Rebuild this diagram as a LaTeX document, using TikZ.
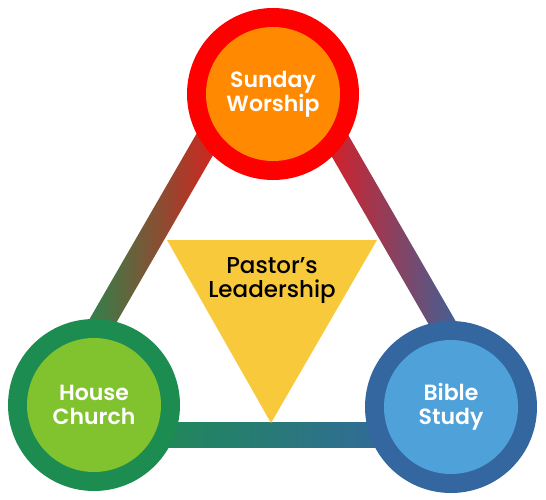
\documentclass[tikz,border=0pt]{standalone}
\usepackage{fontspec}
\setmainfont{Poppins}
\newfontfamily\semib{Poppins SemiBold}
\newfontfamily\medium{Poppins Medium}
\usetikzlibrary{calc}

\definecolor{worshipring}{RGB}{255,0,0}
\definecolor{worshipcore}{RGB}{255,137,0}
\definecolor{houseRing}{RGB}{29,140,80}
\definecolor{houseCore}{RGB}{128,195,46}
\definecolor{bibleRing}{RGB}{52,103,160}
\definecolor{bibleCore}{RGB}{79,161,218}
\definecolor{bandred}{RGB}{235,22,24}
\definecolor{pastorfill}{RGB}{249,201,60}

\begin{document}
\begin{tikzpicture}[x=1pt,y=-1pt,
  ring/.style={circle, minimum size=172pt, inner sep=0pt},
  core/.style={circle, minimum size=134pt, inner sep=0pt, text=white, align=center,
    font=\semib\fontsize{22}{24}\selectfont},
  band/.style={rectangle, minimum width=280pt, minimum height=25pt, inner sep=0pt}]
\useasboundingbox (0,0) rectangle (546,500);
\coordinate (vt) at (272,28);
\coordinate (vl) at (37,435);
\coordinate (vr) at (507,435);
% bands
\node[band, rotate=-120, left color=houseRing, right color=bandred] (lband) at ($(vt)!0.5!(vl)$) {};
\node[band, rotate=-60, left color=bandred, right color=bibleRing] (rband) at ($(vt)!0.5!(vr)$) {};
\node[band, left color=houseRing, right color=bibleRing] (bband) at ($(vl)!0.5!(vr)$) {};
% pastor
\fill[pastorfill] (167,240) -- (377,240) -- (271,423) -- cycle;
\node[align=center, font=\medium\fontsize{23}{24}\selectfont] (pastor) at (272,281) {Pastor’s\\Leadership};
% circles
\node[ring, fill=worshipring] (worshipR) at (273,94) {};
\node[core, fill=worshipcore] (worship) at (273,94) {Sunday\\Worship};
\node[ring, fill=houseRing] (houseR) at (94,405) {};
\node[core, fill=houseCore] (house) at (94,405) {House\\Church};
\node[ring, fill=bibleRing] (bibleR) at (451,407) {};
\node[core, fill=bibleCore] (bible) at (451,407) {Bible\\Study};
\end{tikzpicture}
\end{document}
